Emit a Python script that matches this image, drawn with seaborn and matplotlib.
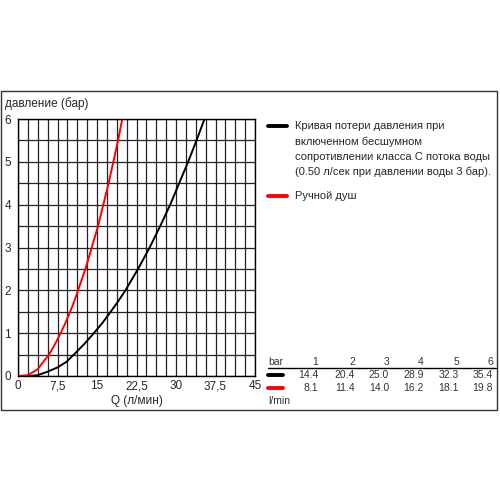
import matplotlib
matplotlib.use("Agg")
import matplotlib.pyplot as plt
import numpy as np
import pandas as pd
import seaborn as sns
from matplotlib.lines import Line2D
from matplotlib.patches import Rectangle

# curve points (Q in l/min, p in bar)
black_q = [0, 2.0, 3.75, 5.6, 7.5, 9.2, 10.6, 12.6, 14.4, 16.1, 17.6, 19.05, 20.4, 22.8, 25.0, 27.0, 28.9, 30.6, 32.3, 33.9, 35.4]
black_p = [0, 0.0, 0.02, 0.1, 0.2, 0.33, 0.5, 0.75, 1.0, 1.25, 1.5, 1.75, 2.0, 2.5, 3.0, 3.5, 4.0, 4.5, 5.0, 5.5, 6.0]
red_q = [0, 1.9, 3.75, 4.6, 5.9, 7.05, 8.1, 9.05, 9.9, 10.7, 11.4, 12.8, 14.0, 15.2, 16.2, 17.2, 18.1, 19.0, 19.8]
red_p = [0, 0.02, 0.16, 0.3, 0.5, 0.75, 1.0, 1.25, 1.5, 1.75, 2.0, 2.5, 3.0, 3.5, 4.0, 4.5, 5.0, 5.5, 6.0]

# table under the legend
table_bar = [1, 2, 3, 4, 5, 6]
table_black = [14.4, 20.4, 25.0, 28.9, 32.3, 35.4]
table_red = [8.1, 11.4, 14.0, 16.2, 18.1, 19.8]

x_ticks = [0, 7.5, 15, 22.5, 30, 37.5, 45]
y_ticks = [0, 1, 2, 3, 4, 5, 6]

legend_black = ("Кривая потери давления при\nвключенном бесшумном\n"
                "сопротивлении класса C потока воды\n(0.50 л/сек при давлении воды 3 бар).")
legend_red = "Ручной душ"

sns.set_style("white")
plt.rcParams["font.family"] = ["Liberation Sans", "DejaVu Sans"]

df = pd.concat([
    pd.DataFrame({"q": black_q, "p": black_p, "series": "black"}),
    pd.DataFrame({"q": red_q, "p": red_p, "series": "red"}),
], ignore_index=True)

fig = plt.figure(figsize=(5, 5), dpi=100)
ax = fig.add_axes([0.036, 0.248, 0.474, 0.514])

sns.lineplot(data=df, x="q", y="p", hue="series", palette={"black": "black", "red": "#ff0000"},
             sort=False, estimator=None, legend=False, linewidth=1.4, ax=ax)

ax.set_xlim(0, 45)
ax.set_ylim(0, 6)
ax.set_xticks(x_ticks)
ax.set_xticklabels([f"{v:g}".replace(".", ",") for v in x_ticks])
ax.set_yticks(y_ticks)
ax.set_xticks(np.arange(0, 45.01, 1.875), minor=True)
ax.set_yticks(np.arange(0, 6.01, 0.5), minor=True)
ax.grid(which="both", color="#222222", linewidth=0.9)
ax.set_axisbelow(True)
ax.tick_params(which="both", length=0, labelsize=8.5, pad=3)
ax.tick_params(axis="y", pad=5)
for s in ax.spines.values():
    s.set_color("black")
    s.set_linewidth(1)
ax.set_xlabel("Q (л/мин)", fontsize=8.5, labelpad=2)
ax.set_ylabel("")
fig.text(0.01, 0.792, "давление (бар)", fontsize=8.5, va="center", ha="left")

# outer frame
fig.patches.append(Rectangle((0.002, 0.18), 0.992, 0.638, transform=fig.transFigure,
                             fill=False, edgecolor="#333333", linewidth=1))

# legend
def sample(y, color):
    fig.add_artist(Line2D([0.536, 0.574], [y, y], color=color, linewidth=2.8,
                          transform=fig.transFigure))

sample(1 - 126 / 500, "black")
fig.text(0.59, 1 - 121 / 500, legend_black, fontsize=8, va="top", ha="left",
         linespacing=1.62, transform=fig.transFigure)
sample(1 - 196 / 500, "#ff0000")
fig.text(0.59, 1 - 196 / 500, legend_red, fontsize=8, va="center", ha="left")

# value table
col_x = [318, 355, 389, 424, 459, 493]
fs_tab = 7.5
tab_color = "#333333"
fig.text(268 / 500, 1 - 362 / 500, "bar", fontsize=fs_tab, va="center", ha="left", color=tab_color)
fig.add_artist(Line2D([268 / 500, 496 / 500], [1 - 368 / 500] * 2, color="black",
                      linewidth=1, transform=fig.transFigure))
for cx, b, vb, vr in zip(col_x, table_bar, table_black, table_red):
    fig.text(cx / 500, 1 - 362 / 500, str(b), fontsize=fs_tab, va="center", ha="right", color=tab_color)
    fig.text(cx / 500, 1 - 375 / 500, f"{vb:.1f}", fontsize=fs_tab, va="center", ha="right", color=tab_color)
    fig.text(cx / 500, 1 - 388 / 500, f"{vr:.1f}", fontsize=fs_tab, va="center", ha="right", color=tab_color)
fig.add_artist(Line2D([268 / 500, 283 / 500], [1 - 375 / 500] * 2, color="black",
                      linewidth=2.8, transform=fig.transFigure))
fig.add_artist(Line2D([268 / 500, 283 / 500], [1 - 388 / 500] * 2, color="#ff0000",
                      linewidth=2.8, transform=fig.transFigure))
fig.text(268 / 500, 1 - 401 / 500, "l/min", fontsize=fs_tab, va="center", ha="left", color=tab_color)

fig.savefig("out.png", dpi=100)
